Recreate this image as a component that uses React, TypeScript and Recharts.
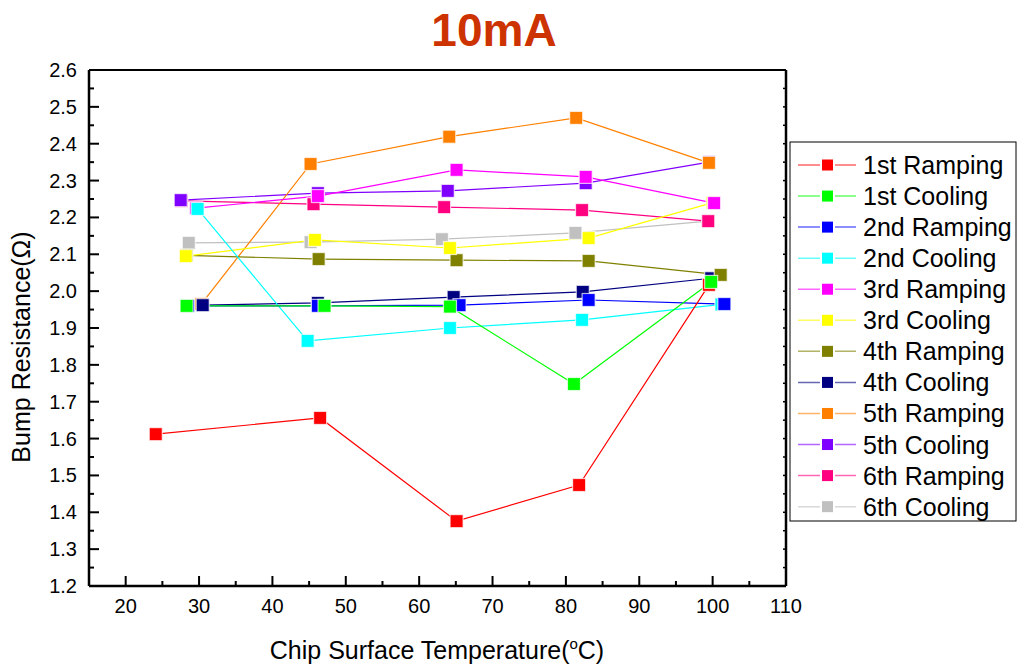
import React from 'react';
import { LineChart, Line, XAxis, YAxis } from 'recharts';

// ---- Data ----
const seriesNames = [
  '1st Ramping', '1st Cooling', '2nd Ramping', '2nd Cooling',
  '3rd Ramping', '3rd Cooling', '4th Ramping', '4th Cooling',
  '5th Ramping', '5th Cooling', '6th Ramping', '6th Cooling',
];
const seriesColors = [
  '#FF0000', '#00FF00', '#0000FF', '#00FFFF',
  '#FF00FF', '#FFFF00', '#808000', '#000080',
  '#FF8000', '#8000FF', '#FF0080', '#C0C0C0',
];

const ramp1T = [24.1, 46.5, 65.1, 81.8, 99.5];
const ramp1R = [1.612, 1.656, 1.376, 1.474, 2.017];
const cool1T = [28.3, 47.1, 64.2, 81.1, 99.8];
const cool1R = [1.960, 1.960, 1.958, 1.748, 2.025];
const ramp2T = [28.5, 46.2, 65.5, 83.1, 101.6];
const ramp2R = [1.960, 1.960, 1.962, 1.976, 1.965];
const cool2T = [29.8, 44.8, 64.2, 82.2, 101.2];
const cool2R = [2.223, 1.865, 1.900, 1.922, 1.964];
const ramp3T = [29.6, 46.2, 65.1, 82.7, 100.2];
const ramp3R = [2.225, 2.258, 2.329, 2.310, 2.239];
const cool3T = [28.2, 45.8, 64.2, 83.1, 100.0];
const cool3R = [2.095, 2.139, 2.117, 2.144, 2.240];
const ramp4T = [28.3, 46.3, 65.1, 83.1, 101.1];
const ramp4R = [2.097, 2.087, 2.084, 2.082, 2.044];
const cool4T = [30.5, 46.2, 64.7, 82.3, 99.8];
const cool4R = [1.962, 1.968, 1.984, 1.998, 2.035];
const ramp5T = [30.3, 45.2, 64.1, 81.4, 99.5];
const ramp5R = [1.965, 2.345, 2.419, 2.470, 2.348];
const cool5T = [27.5, 46.2, 63.9, 82.7, 99.5];
const cool5R = [2.247, 2.266, 2.272, 2.293, 2.350];
const ramp6T = [27.6, 45.6, 63.4, 82.2, 99.4];
const ramp6R = [2.245, 2.236, 2.228, 2.220, 2.190];
const cool6T = [28.6, 45.2, 63.1, 81.3, 99.4];
const cool6R = [2.131, 2.133, 2.141, 2.158, 2.190];

const xTicks = [20, 25, 30, 35, 40, 45, 50, 55, 60, 65, 70, 75, 80, 85, 90, 95, 100, 105, 110];
const xMajorLabels = ['20', '30', '40', '50', '60', '70', '80', '90', '100', '110'];
const yTicks = [1.2, 1.25, 1.3, 1.35, 1.4, 1.45, 1.5, 1.55, 1.6, 1.65, 1.7, 1.75, 1.8, 1.85, 1.9, 1.95,
  2.0, 2.05, 2.1, 2.15, 2.2, 2.25, 2.3, 2.35, 2.4, 2.45, 2.5, 2.55, 2.6];

const titleText = '10mA';
const xTitle = 'Chip Surface Temperature(';
const yTitle = 'Bump Resistance(Ω)';

const seriesT = [ramp1T, cool1T, ramp2T, cool2T, ramp3T, cool3T, ramp4T, cool4T, ramp5T, cool5T, ramp6T, cool6T];
const seriesR = [ramp1R, cool1R, ramp2R, cool2R, ramp3R, cool3R, ramp4R, cool4R, ramp5R, cool5R, ramp6R, cool6R];

const seriesData = seriesT.map((ts, i) => ts.map((t, j) => ({ x: t, y: seriesR[i][j] })));

const FONT = "Arial, 'Liberation Sans', sans-serif";

const isMajorX = (v: number) => xMajorLabels.indexOf(String(v)) >= 0;
const yLabelOf = (v: number) => {
  const s = v.toFixed(1);
  return Math.abs(v * 10 - Math.round(v * 10)) < 1e-6 ? s : null;
};

const BottomTick = (props: any) => {
  const { x, y, payload } = props;
  const major = isMajorX(payload.value);
  return (
    <g>
      <line x1={x} x2={x} y1={y} y2={y - (major ? 10 : 5)} stroke="#000" strokeWidth={2} />
      {major && (
        <text x={x} y={y + 27} textAnchor="middle" fontSize={20} fontFamily={FONT} fill="#000">
          {String(payload.value)}
        </text>
      )}
    </g>
  );
};

const TopTick = (props: any) => {
  const { x, y } = props;
  return <line x1={x} x2={x} y1={y} y2={y + 3} stroke="#000" strokeWidth={1.5} />;
};

const LeftTick = (props: any) => {
  const { x, y, payload } = props;
  const lbl = yLabelOf(payload.value);
  const major = lbl !== null;
  return (
    <g>
      <line x1={x} x2={x + (major ? 10 : 5)} y1={y} y2={y} stroke="#000" strokeWidth={2} />
      {major && (
        <text x={x - 12} y={y + 7} textAnchor="end" fontSize={20} fontFamily={FONT} fill="#000">
          {lbl}
        </text>
      )}
    </g>
  );
};

const RightTick = (props: any) => {
  const { x, y } = props;
  return <line x1={x} x2={x - 3} y1={y} y2={y} stroke="#000" strokeWidth={1.5} />;
};

const makeDot = (color: string) => (props: any) => {
  const { cx, cy, index } = props;
  if (cx == null || cy == null) return <g key={`d-${index}`} />;
  return (
    <rect
      key={`d-${index}`}
      x={cx - 6.5}
      y={cy - 6.5}
      width={13}
      height={13}
      fill={color}
      stroke="#ffffff"
      strokeOpacity={0.7}
      strokeWidth={1.2}
    />
  );
};

const W = 1019;
const H = 668;

// drawing order: later series underneath, earlier on top (1st Cooling above 1st Ramping)
const drawOrder = [11, 10, 9, 8, 7, 6, 5, 4, 3, 2, 0, 1];

export default function App() {
  const legendTop = 142;
  const rowH = 31.06;
  return (
    <div style={{ position: 'absolute', left: 0, top: 0, width: W, height: H, background: '#fff' }}>
      <LineChart width={W} height={H} margin={{ top: 69, right: 232, bottom: 0, left: 0 }}>
        <XAxis
          dataKey="x"
          type="number"
          domain={[15, 110]}
          allowDataOverflow
          ticks={xTicks}
          interval={0}
          tickSize={0}
          tickMargin={0}
          tickLine={false}
          height={82}
          axisLine={{ stroke: '#000', strokeWidth: 2.5 }}
          tick={<BottomTick />}
        />
        <XAxis
          xAxisId="top"
          orientation="top"
          type="number"
          domain={[15, 110]}
          allowDataOverflow
          ticks={xTicks}
          interval={0}
          tickSize={0}
          tickMargin={0}
          tickLine={false}
          height={1}
          axisLine={{ stroke: '#000', strokeWidth: 2 }}
          tick={<TopTick />}
        />
        <YAxis
          type="number"
          domain={[1.2, 2.6]}
          allowDataOverflow
          ticks={yTicks}
          interval={0}
          tickSize={0}
          tickMargin={0}
          tickLine={false}
          width={89}
          axisLine={{ stroke: '#000', strokeWidth: 2.5 }}
          tick={<LeftTick />}
        />
        <YAxis
          yAxisId="right"
          orientation="right"
          type="number"
          domain={[1.2, 2.6]}
          allowDataOverflow
          ticks={yTicks}
          interval={0}
          tickSize={0}
          tickMargin={0}
          tickLine={false}
          width={1}
          axisLine={{ stroke: '#000', strokeWidth: 2.5 }}
          tick={<RightTick />}
        />
        {drawOrder.map((i) => (
          <Line
            key={seriesNames[i]}
            name={seriesNames[i]}
            data={seriesData[i]}
            dataKey="y"
            type="linear"
            stroke={seriesColors[i]}
            strokeWidth={1.2}
            dot={makeDot(seriesColors[i])}
            activeDot={false}
            isAnimationActive={false}
          />
        ))}
      </LineChart>
      <svg
        width={W}
        height={H}
        style={{ position: 'absolute', left: 0, top: 0, pointerEvents: 'none' }}
      >
        <text x={494} y={46} textAnchor="middle" fontSize={46} fontWeight="bold" fontFamily={FONT} fill="#CC3300">
          {titleText}
        </text>
        <text x={437} y={659} textAnchor="middle" fontSize={25} fontFamily={FONT} fill="#000">
          {xTitle}
          <tspan dy={-10} fontSize={15}>o</tspan>
          <tspan dy={10}>C)</tspan>
        </text>
        <text
          x={0}
          y={0}
          transform="translate(30,347) rotate(-90)"
          textAnchor="middle"
          fontSize={25}
          fontFamily={FONT}
          fill="#000"
        >
          {yTitle}
        </text>
        <rect x={790} y={legendTop} width={226} height={379} fill="#fff" stroke="#000" strokeWidth={1} />
        {seriesNames.map((name, i) => {
          const cy = 165 + i * rowH;
          return (
            <g key={name}>
              <line x1={798} x2={856} y1={cy} y2={cy} stroke={seriesColors[i]} strokeOpacity={0.6} strokeWidth={1.5} />
              <rect x={821} y={cy - 6.5} width={13} height={13} fill={seriesColors[i]} stroke="#fff" strokeWidth={2} />
              <text x={863} y={cy + 9} fontSize={25} fontFamily={FONT} fill="#000">
                {name}
              </text>
            </g>
          );
        })}
      </svg>
    </div>
  );
}
